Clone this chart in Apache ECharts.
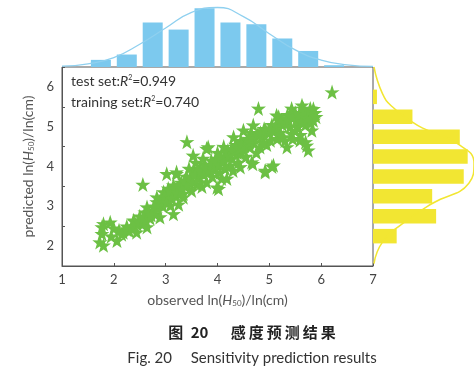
<!DOCTYPE html>
<html><head><meta charset="utf-8">
<script src="https://cdn.jsdelivr.net/npm/echarts@6/dist/echarts.min.js"></script>
<style>html,body{margin:0;padding:0;background:#fff}#c{width:474px;height:368px}</style>
</head><body><div id="c"></div>
<script>
// ---- data ----
const xTicks = [1, 2, 3, 4, 5, 6, 7];
const yTicks = [2, 3, 4, 5, 6];
// top histogram (observed) bins of 0.5 from 1 to 7
const obsBins = ['1.0-1.5','1.5-2.0','2.0-2.5','2.5-3.0','3.0-3.5','3.5-4.0','4.0-4.5','4.5-5.0','5.0-5.5','5.5-6.0','6.0-6.5','6.5-7.0'];
const obsCounts = [0, 4, 7, 25, 21, 33, 25, 24, 16, 9, 1, 0];
const obsCurveX = [1.0, 1.5, 2.0, 2.5, 3.0, 3.5, 4.0, 4.5, 5.0, 5.5, 6.0, 6.5, 7.0];
const obsCurveY = [0.5, 1.8, 5.3, 12.8, 21.9, 30.7, 33.4, 28.3, 18.7, 9.6, 3.9, 1.2, 0.3];
// right histogram (predicted) bins of 0.5 from 1.5 to 6.5
const predBins = ['1.5-2.0','2.0-2.5','2.5-3.0','3.0-3.5','3.5-4.0','4.0-4.5','4.5-5.0','5.0-5.5','5.5-6.0','6.0-6.5'];
const predCounts = [0, 6, 16, 15, 23, 24, 22, 10, 1, 0];
const predCurveY = [1.56, 2.10, 2.56, 3.07, 3.58, 4.08, 4.58, 4.95, 5.12, 5.50, 5.83, 6.50];
const predCurveX = [0.25, 2.4, 7.4, 15.0, 24.3, 25.6, 21.3, 12.9, 9.9, 4.9, 2.4, 0.25];
// scatter: observed vs predicted
const observed = [1.73,1.77,1.80,1.80,1.93,1.77,2.06,2.18,1.95,2.10,2.25,2.30,2.00,
 2.38,2.44,2.55,2.64,2.50,2.64,2.70,2.56,2.60,2.75,2.45,2.80,
 2.83,2.89,2.83,2.96,3.09,3.02,3.21,3.15,3.15,3.00,3.05,3.20,3.25,2.95,3.10,3.28,3.21,3.30,
 3.34,3.34,3.41,3.47,3.53,3.40,3.50,3.55,3.60,3.65,3.70,3.66,3.75,3.79,3.80,3.45,3.58,3.72,3.38,
 3.82,3.79,3.99,3.99,4.02,3.90,3.95,4.05,4.10,4.15,4.18,4.24,4.20,4.28,3.88,4.08,4.00,4.12,4.30,
 4.31,4.44,4.50,4.50,4.63,4.66,4.68,4.35,4.40,4.45,4.55,4.60,4.70,4.75,4.38,4.58,4.79,4.69,4.82,4.65,4.44,4.18,
 4.92,5.05,5.08,4.92,5.02,5.11,5.14,5.18,4.85,4.90,4.95,5.00,5.05,5.15,5.20,5.25,5.27,4.88,5.30,
 5.31,5.34,5.43,5.43,5.53,5.59,5.63,5.72,5.75,5.79,5.82,5.85,5.40,5.50,5.55,5.65,5.70,5.75,5.60,5.35,5.45,5.80,5.88,5.66,5.50,5.70,
 6.21,
 2.15,2.25,2.35,2.40,2.50,2.58,2.62,2.68,2.72,2.78,2.85,2.90,2.92,2.98,3.02,3.08,3.12,3.18,3.22,3.27,
 3.32,3.36,3.42,3.48,3.52,3.57,3.62,3.68,3.73,3.78,3.84,3.88,3.93,3.97,4.03,4.07,4.12,4.17,4.22,4.27,
 4.32,4.37,4.42,4.47,4.52,4.57,4.62,4.67,4.72,4.78,4.83,4.88,4.93,4.98,5.03,5.08,5.13,5.18,5.23,5.28,
 5.33,5.38,5.45,5.52,5.58,5.62,5.68,5.73,5.78,5.85,5.90];
const predicted = [2.10,2.31,2.02,2.56,2.60,2.48,2.14,2.35,2.25,2.40,2.50,2.38,2.45,
 2.65,2.35,2.55,2.48,2.75,2.98,2.70,3.55,2.85,2.90,2.55,2.80,
 3.23,2.73,3.11,3.36,3.02,3.82,3.82,3.53,2.81,3.15,3.45,3.25,3.05,3.00,3.30,3.44,3.86,3.60,
 3.32,3.23,4.62,3.61,4.28,3.75,3.40,3.90,3.55,3.75,3.50,3.95,4.05,3.61,3.85,3.95,4.10,4.20,3.50,
 4.49,4.45,4.20,3.48,3.44,3.75,4.00,3.85,4.10,3.95,4.24,4.03,4.40,4.20,4.15,3.70,4.35,4.50,3.90,
 4.74,4.32,4.91,4.45,4.49,4.11,4.07,4.55,4.10,4.65,4.25,4.70,4.60,4.35,4.35,4.55,5.46,5.04,4.49,4.85,3.99,3.70,
 3.86,4.00,4.03,3.90,4.66,4.95,5.29,5.25,4.75,4.95,4.55,4.85,5.05,4.70,4.85,5.05,4.74,4.60,4.65,
 5.16,4.49,5.46,4.83,5.21,4.66,5.54,4.53,4.41,5.46,4.91,5.16,5.00,5.35,5.00,5.25,5.05,5.30,4.80,5.30,4.70,5.10,5.35,5.45,4.90,4.62,
 5.87,
 2.30,2.42,2.50,2.62,2.60,2.72,2.65,2.85,2.78,3.00,2.95,3.10,3.20,3.25,3.10,3.40,3.20,3.45,3.35,3.55,
 3.45,3.65,3.55,3.75,3.62,3.80,3.70,3.88,3.80,3.95,3.90,4.05,3.92,4.12,4.05,4.25,4.18,4.35,4.28,4.45,
 4.38,4.50,4.45,4.58,4.52,4.68,4.62,4.75,4.70,4.82,4.85,4.80,4.92,4.90,4.95,4.88,5.05,5.00,5.12,5.10,
 5.20,5.15,5.25,5.15,5.30,5.12,5.38,5.20,5.40,5.45,5.25];

const FONT = 'Lato, "Noto Sans", sans-serif';
const STAR = 'path://M50,0 L61.8,35.1 L97.6,34.5 L68.8,56.1 L79.4,90.5 L50,70 L20.6,90.5 L31.2,56.1 L2.4,34.5 L38.2,35.1 Z';
const L = 62, T = 67, W = 311, H = 199;

const chart = echarts.init(document.getElementById('c'), null, {renderer: 'canvas'});
const richName = {
  i: {fontStyle: 'italic', fontSize: 14, color: '#555', fontFamily: FONT},
  sub: {fontSize: 8, color: '#555', fontFamily: FONT, verticalAlign: 'bottom', padding: [6, 0, 0, 0]}
};
const richR = {i: {fontStyle: 'italic', fontSize: 14, fontFamily: FONT, fill: '#333'},
  sup: {fontSize: 7, fontFamily: FONT, fill: '#333', verticalAlign: 'top', padding: [0, 0, 6, 0]}};
chart.setOption({
  animation: false,
  grid: [
    {left: L, top: T, width: W, height: H, show: true, borderColor: '#555', borderWidth: 1, backgroundColor: 'transparent'},
    {left: L, top: 0, width: W, height: T},
    {left: L + W, top: T, width: 474 - L - W, height: H}
  ],
  xAxis: [
    {gridIndex: 0, type: 'value', min: 1, max: 7, interval: 1,
     axisLine: {show: true, lineStyle: {color: '#555'}}, axisTick: {show: true, inside: true, length: 3, lineStyle: {color: '#555'}},
     splitLine: {show: false},
     axisLabel: {color: '#444', fontSize: 13, fontFamily: FONT, margin: 7},
     name: 'observed ln({i|H}{sub|50})/ln(cm)', nameLocation: 'middle', nameGap: 27,
     nameTextStyle: {color: '#555', fontSize: 14, fontFamily: FONT, rich: richName}},
    {gridIndex: 1, type: 'category', data: obsBins, show: false, boundaryGap: true},
    {gridIndex: 1, type: 'value', min: 1, max: 7, show: false},
    {gridIndex: 2, type: 'value', min: 0, max: 25.6, show: false}
  ],
  yAxis: [
    {gridIndex: 0, type: 'value', min: 1.5, max: 6.5, interval: 1,
     axisLine: {show: true, lineStyle: {color: '#555'}}, axisTick: {show: true, inside: true, length: 3, lineStyle: {color: '#555'}},
     splitLine: {show: false},
     axisLabel: {color: '#444', fontSize: 13, fontFamily: FONT, margin: 8, customValues: yTicks},
     name: 'predicted ln({i|H}{sub|50})/ln(cm)', nameLocation: 'middle', nameGap: 23,
     nameTextStyle: {color: '#555', fontSize: 14, fontFamily: FONT, rich: richName}},
    {gridIndex: 1, type: 'value', min: 0, max: 37.6, show: false},
    {gridIndex: 2, type: 'category', data: predBins, show: false, boundaryGap: true},
    {gridIndex: 2, type: 'value', min: 1.5, max: 6.5, show: false}
  ],
  series: [
    {type: 'bar', xAxisIndex: 1, yAxisIndex: 1, data: obsCounts, barWidth: 20,
     itemStyle: {color: '#7cc9ee'}},
    {type: 'line', xAxisIndex: 2, yAxisIndex: 1, data: obsCurveX.map((x, i) => [x, obsCurveY[i]]),
     smooth: 0.5, showSymbol: false, lineStyle: {color: '#8fd0ef', width: 1.3}},
    {type: 'bar', xAxisIndex: 3, yAxisIndex: 2, data: predCounts, barWidth: 14.5,
     itemStyle: {color: '#f2e632'}},
    {type: 'line', xAxisIndex: 3, yAxisIndex: 3, data: predCurveY.map((y, i) => [predCurveX[i], y]),
     smooth: 0.5, showSymbol: false, lineStyle: {color: '#f2e632', width: 1.5}},
    {type: 'scatter', xAxisIndex: 0, yAxisIndex: 0, data: observed.map((x, i) => [x, predicted[i]]),
     symbol: STAR, symbolSize: 15, itemStyle: {color: '#6cc044', opacity: 1}}
  ],
  graphic: [
    {type: 'text', left: 71, top: 74, style: {
      text: 'test set:{i|R}{sup|2}=0.949', fontSize: 14, fontFamily: FONT, fill: '#333', rich: richR}},
    {type: 'text', left: 71, top: 95, style: {
      text: 'training set:{i|R}{sup|2}=0.740', fontSize: 14, fontFamily: FONT, fill: '#333', rich: richR}},
    {type: 'text', x: 252, y: 332, style: {
      text: '图\u200220\u2003\u2002感\u2009度\u2009预\u2009测\u2009结\u2009果', fontSize: 15, fontWeight: 'bold',
      fontFamily: '"Noto Sans CJK SC", sans-serif', fill: '#222', align: 'center', verticalAlign: 'middle'}},
    {type: 'text', x: 252, y: 358, style: {
      text: 'Fig. 20\u2003\u2002Sensitivity prediction results', fontSize: 15,
      fontFamily: FONT, fill: '#333', align: 'center', verticalAlign: 'middle'}}
  ]
});
</script></body></html>
